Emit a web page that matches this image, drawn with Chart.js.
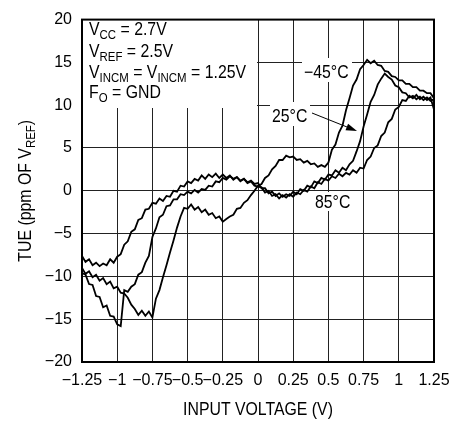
<!DOCTYPE html>
<html>
<head>
<meta charset="utf-8">
<title>TUE vs Input Voltage</title>
<style>
  body { margin: 0; background: #fff; }
</style>
</head>
<body>
<canvas id="c" width="466" height="423"></canvas>
<script src="https://cdn.jsdelivr.net/npm/chart.js"></script>
<script>
// input voltage (V)
var xVolts = [
  -1.25, -1.225, -1.2, -1.175, -1.15, -1.125, -1.1, -1.075, -1.05, -1.025,
  -1.0, -0.975, -0.95, -0.925, -0.9, -0.875, -0.85, -0.825, -0.8, -0.775,
  -0.75, -0.725, -0.7, -0.675, -0.65, -0.625, -0.6, -0.575, -0.55, -0.525,
  -0.5, -0.475, -0.45, -0.425, -0.4, -0.375, -0.35, -0.325, -0.3, -0.275,
  -0.25, -0.225, -0.2, -0.175, -0.15, -0.125, -0.1, -0.075, -0.05, -0.025,
  0, 0.025, 0.05, 0.075, 0.1, 0.125, 0.15, 0.175, 0.2, 0.225,
  0.25, 0.275, 0.3, 0.325, 0.35, 0.375, 0.4, 0.425, 0.45, 0.475,
  0.5, 0.525, 0.55, 0.575, 0.6, 0.625, 0.65, 0.675, 0.7, 0.725,
  0.75, 0.775, 0.8, 0.825, 0.85, 0.875, 0.9, 0.925, 0.95, 0.975,
  1.0, 1.025, 1.05, 1.075, 1.1, 1.125, 1.15, 1.175, 1.2, 1.225,
  1.25
];
// TUE (ppm of VREF), -45°C
var tueM45 = [
  -9.0, -9.7, -9.4, -10.1, -9.8, -10.5, -10.2, -10.9, -10.6, -11.4,
  -11.2, -11.9, -12.0, -12.5, -13.3, -13.8, -14.5, -14.0, -14.6, -14.1,
  -14.8, -12.6, -11.6, -10.1, -8.7, -7.2, -5.8, -4.3, -3.0, -2.0,
  -2.1, -1.6, -2.2, -1.9, -2.5, -2.2, -2.8, -2.6, -3.2, -3.0,
  -3.6, -3.3, -3.0, -2.8, -2.1, -2.0, -1.4, -1.1, -0.5, 0.0,
  0.6, 0.8, 1.5, 1.8, 2.5, 2.9, 3.6, 3.6, 4.1, 3.9,
  4.0, 3.6, 3.7, 3.3, 3.5, 3.1, 3.2, 2.8, 3.0, 2.8,
  3.3, 4.8, 5.4, 6.8, 7.6, 9.4, 10.8, 12.3, 13.0, 14.2,
  14.7, 15.3, 14.9, 15.2, 14.7, 14.6, 14.0, 13.9, 13.4, 13.3,
  12.9, 12.9, 12.5, 12.5, 12.1, 12.1, 11.7, 11.7, 11.4, 11.4,
  10.8
];
// TUE (ppm of VREF), 25°C
var tue25 = [
  -9.6, -9.8, -10.9, -11.0, -12.3, -12.4, -13.6, -13.4, -14.6, -14.7,
  -15.6, -15.8, -11.6, -11.8, -11.2, -10.9, -9.8, -9.5, -8.4, -7.6,
  -5.4, -4.4, -3.1, -2.8, -1.8, -1.7, -1.0, -1.0, -0.4, -0.5,
  -0.1, -0.3, 0.1, -0.2, 0.2, 0.1, 0.6, 0.5, 1.1, 1.0,
  1.5, 1.3, 1.7, 1.4, 1.6, 1.2, 1.4, 1.0, 1.2, 0.8,
  0.9, 0.3, 0.3, -0.3, -0.1, -0.6, -0.3, -0.7, -0.4, -0.6,
  -0.1, -0.4, 0.2, 0.0, 0.6, 0.4, 1.1, 0.9, 1.5, 1.3,
  1.9, 1.8, 2.4, 2.1, 2.7, 2.4, 3.1, 3.5, 4.6, 5.8,
  7.5, 8.9, 10.4, 11.2, 12.4, 13.1, 13.7, 13.3, 13.0, 12.3,
  12.1, 11.5, 11.4, 10.9, 11.1, 10.7, 11.0, 10.6, 10.9, 10.5,
  10.7
];
// TUE (ppm of VREF), 85°C
var tue85 = [
  -7.6, -8.3, -8.0, -8.7, -8.4, -8.8, -8.5, -8.7, -8.0, -8.4,
  -7.7, -7.4, -6.3, -5.9, -4.8, -4.5, -3.4, -3.2, -2.2, -2.1,
  -1.4, -1.5, -0.9, -1.2, -0.6, -0.7, 0.0, -0.1, 0.6, 0.5,
  1.1, 0.9, 1.4, 1.2, 1.8, 1.4, 1.9, 1.6, 2.0, 1.5,
  1.9, 1.5, 1.8, 1.3, 1.6, 1.1, 1.4, 0.9, 1.1, 0.6,
  0.5, 0.4, -0.2, 0.0, -0.6, -0.4, -0.9, -0.5, -0.8, -0.4,
  -0.7, -0.2, -0.4, 0.1, -0.1, 0.5, 0.3, 1.0, 0.8, 1.4,
  1.2, 1.7, 1.5, 2.0, 1.7, 2.1, 1.9, 2.4, 2.1, 2.7,
  2.6, 3.6, 4.0, 5.0, 5.3, 6.4, 6.8, 8.0, 8.4, 9.5,
  9.8, 10.6, 10.5, 11.1, 10.8, 11.2, 10.7, 11.0, 10.6, 10.9,
  9.5
];
var xTickLabels = ['\u22121.25', '\u22121', '\u22120.75', '\u22120.5', '\u22120.25', '0', '0.25', '0.5', '0.75', '1', '1.25'];
var yTickLabels = ['\u221220', '\u221215', '\u221210', '\u22125', '0', '5', '10', '15', '20'];

var FONT = '"Liberation Sans", Arial, sans-serif';
var SQUEEZE = 0.88; // narrow the text like the condensed face of the original

function toPoints(ys) {
    var pts = [];
    for (let i = 0; i < xVolts.length; i++) {
        pts.push({ x: xVolts[i], y: ys[i] });
    }
    return pts;
}

// text made of [text, isSubscript] runs, left aligned on a baseline
function runFont(r) { return (r[1] ? '13px ' : '18px ') + FONT; }
function runsWidth(ctx, runs) {
    var w = 0;
    runs.forEach(function (r) {
        ctx.font = runFont(r);
        w += ctx.measureText(r[0]).width;
    });
    return w * SQUEEZE;
}
function drawRuns(ctx, runs, x, y) {
    ctx.save();
    ctx.translate(x, y);
    ctx.scale(SQUEEZE, 1);
    var cx = 0;
    runs.forEach(function (r) {
        ctx.font = runFont(r);
        ctx.fillText(r[0], cx, r[1] ? 4 : 0);
        cx += ctx.measureText(r[0]).width;
    });
    ctx.restore();
}

var overlay = {
    id: 'overlay',
    beforeDatasetsDraw: function (chart) {
        var ctx = chart.ctx;
        ctx.save();
        ctx.fillStyle = '#fff';
        ctx.fillRect(83, 11, 174, 97);     // conditions box
        ctx.fillRect(302, 58, 50, 24);     // -45°C
        ctx.fillRect(270, 102, 40, 24);    // 25°C
        ctx.fillRect(313, 192, 41, 19);    // 85°C
        ctx.restore();
    },
    afterDatasetsDraw: function (chart) {
        var ctx = chart.ctx;
        var a = chart.chartArea;
        ctx.save();
        ctx.fillStyle = '#000';
        ctx.textBaseline = 'alphabetic';
        ctx.textAlign = 'left';

        drawRuns(ctx, [['V', 0], ['CC', 1], [' = 2.7V', 0]], 89, 35);
        drawRuns(ctx, [['V', 0], ['REF', 1], [' = 2.5V', 0]], 89, 57);
        drawRuns(ctx, [['V', 0], ['INCM', 1], [' = V', 0], ['INCM', 1], [' = 1.25V', 0]], 89, 78);
        drawRuns(ctx, [['F', 0], ['O', 1], [' = GND', 0]], 89, 98);

        drawRuns(ctx, [['\u221245\u00b0C', 0]], 304, 78);
        drawRuns(ctx, [['25\u00b0C', 0]], 272, 122);
        drawRuns(ctx, [['85\u00b0C', 0]], 315, 208);

        // arrow to the 25°C curve
        var x1 = 312, y1 = 113, x2 = 357, y2 = 131;
        var ang = Math.atan2(y2 - y1, x2 - x1);
        ctx.strokeStyle = '#000';
        ctx.lineWidth = 1;
        ctx.beginPath();
        ctx.moveTo(x1, y1);
        ctx.lineTo(x2 - 8 * Math.cos(ang), y2 - 8 * Math.sin(ang));
        ctx.stroke();
        ctx.beginPath();
        ctx.moveTo(x2, y2);
        ctx.lineTo(x2 - 11 * Math.cos(ang) + 3.5 * Math.sin(ang), y2 - 11 * Math.sin(ang) - 3.5 * Math.cos(ang));
        ctx.lineTo(x2 - 11 * Math.cos(ang) - 3.5 * Math.sin(ang), y2 - 11 * Math.sin(ang) + 3.5 * Math.cos(ang));
        ctx.closePath();
        ctx.fill();

        // frame
        ctx.lineWidth = 2;
        ctx.strokeRect(a.left, a.top, a.right - a.left, a.bottom - a.top);

        // axis titles
        var xRuns = [['INPUT VOLTAGE (V)', 0]];
        drawRuns(ctx, xRuns, (a.left + a.right) / 2 - runsWidth(ctx, xRuns) / 2, 415);

        var yRuns = [['TUE (ppm OF V', 0], ['REF', 1], [')', 0]];
        ctx.translate(31, (a.top + a.bottom) / 2);
        ctx.rotate(-Math.PI / 2);
        drawRuns(ctx, yRuns, -runsWidth(ctx, yRuns) / 2, 0);
        ctx.restore();
    }
};

function lineSet(label, ys) {
    return {
        label: label,
        data: toPoints(ys),
        showLine: true,
        borderColor: '#000',
        backgroundColor: '#000',
        borderWidth: 1.8,
        pointRadius: 0,
        tension: 0,
        fill: false
    };
}

new Chart(document.getElementById('c'), {
    type: 'scatter',
    data: {
        datasets: [
            lineSet('-45°C', tueM45),
            lineSet('25°C', tue25),
            lineSet('85°C', tue85)
        ]
    },
    options: {
        responsive: false,
        animation: false,
        layout: { padding: { left: 0, top: 10, right: 32, bottom: 0 } },
        plugins: {
            legend: { display: false },
            tooltip: { enabled: false }
        },
        scales: {
            x: {
                type: 'linear',
                min: -1.25,
                max: 1.25,
                afterFit: function (s) { s.height = 61; },
                afterBuildTicks: function (s) {
                    s.ticks = xTickLabels.map(function (t, i) { return { value: -1.25 + i * 0.25 }; });
                },
                ticks: {
                    autoSkip: false,
                    maxRotation: 0,
                    padding: 9,
                    color: '#000',
                    font: { family: FONT, size: 16 },
                    callback: function (v, i) { return xTickLabels[i]; }
                },
                grid: { color: '#222', lineWidth: 1, drawTicks: false },
                border: { display: true, color: '#000', width: 2 }
            },
            y: {
                type: 'linear',
                min: -20,
                max: 20,
                afterFit: function (s) { s.width = 82; },
                ticks: {
                    stepSize: 5,
                    padding: 10,
                    color: '#000',
                    font: { family: FONT, size: 16 },
                    callback: function (v) { return yTickLabels[Math.round((v + 20) / 5)]; }
                },
                grid: { color: '#222', lineWidth: 1, drawTicks: false },
                border: { display: true, color: '#000', width: 2 }
            }
        }
    },
    plugins: [overlay]
});
</script>
</body>
</html>
